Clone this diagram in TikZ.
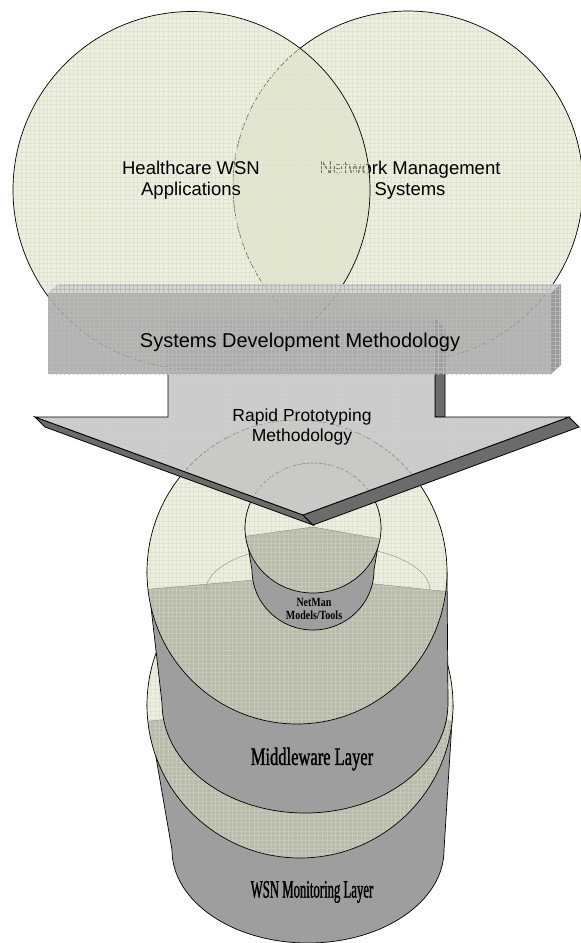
\documentclass[tikz,border=0pt]{standalone}
\usepackage{fontspec}
\setmainfont{Liberation Sans}
\newfontfamily\layerfont{Liberation Serif}[FakeStretch=0.66, FakeBold=1.2]
\newfontfamily\monitorfont{Liberation Serif}[FakeStretch=0.51, FakeBold=1.2]
\newfontfamily\toolfont{Liberation Serif}[FakeStretch=0.8]
\usetikzlibrary{patterns.meta}
\definecolor{venn}{HTML}{EDF0E0}
\definecolor{vennleft}{HTML}{DCE0C2}
\definecolor{venngrid}{HTML}{DFE3CF}
\definecolor{shadeface}{HTML}{B8BBA9}
\definecolor{shadegrid}{HTML}{C7CABA}
\definecolor{wallgray}{HTML}{9E9E9E}
\definecolor{boxfront}{HTML}{A9A9A9}
\definecolor{boxtop}{HTML}{D4D4D4}
\definecolor{boxside}{HTML}{8C8C8C}
\definecolor{boxgrid}{HTML}{B8B8B8}
\definecolor{arrowfill}{HTML}{BDBDBD}
\definecolor{arrowgrid}{HTML}{CACACA}
\definecolor{arrowside}{HTML}{6B6B6B}
\tikzset{
    gridfill/.style n args={3}{
        preaction={fill=#1, fill opacity=#3}, fill opacity=#3,
        pattern={Hatch[angle=0, distance=4.3pt, line width=0.3pt]}, pattern color=#2
    },
    vennset/.style={
        gridfill={#1}{venngrid}{1}, draw=black, line width=0.7pt
    },
    vennset/.default=venn,
    vennlab/.style={
        font=\fontsize{18.5}{20.5}\selectfont, align=center, inner sep=0pt
    },
    wall/.style={
        fill=wallgray, draw=black, line width=0.7pt
    },
    topdisc/.style={
        gridfill={venn}{venngrid}{1}
    },
    shadepart/.style={
        gridfill={shadeface}{shadegrid}{1}
    },
    rimline/.style={
        draw=black, line width=0.7pt
    },
    creaseline/.style={
        draw=black!45, line width=0.4pt
    },
    arrowbody/.style={
        gridfill={arrowfill}{arrowgrid}{0.75}, draw=black, line width=0.8pt
    },
    arrowedge/.style={
        fill=arrowside, draw=black, line width=0.8pt
    },
    boxface/.style={
        gridfill={#1}{boxgrid}{0.88}
    },
    boxface/.default=boxfront,
    layerlab/.style={
        inner sep=0pt, text=black
    },
}

\begin{document}
\begin{tikzpicture}[x=1pt, y=-1pt]

    \fill[white] (0,0) rectangle (581,943);
    \useasboundingbox (0,0) rectangle (581,943);

    % ── Venn circles ──
    \path[vennset] (408,186) circle[radius=175];
    \node[vennlab] (netmgmt) at (410,180) {Network Management\\Systems};
    \path[gridfill={vennleft}{venngrid}{0.5}, draw=black, line width=0.7pt] (191.5,190) circle[radius=178.5];
    \node[vennlab] (health) at (191,180) {Healthcare WSN\\Applications};

    % ── WSN Monitoring cylinder ──
    \path[wall] (147,705) -- (172,850) arc[start angle=180, end angle=0, x radius=136, y radius=93] -- (453,705) -- cycle;
    \path[topdisc] (300,705) ellipse[x radius=153, y radius=153];
    \begin{scope}
        \clip (300,705) ellipse[x radius=153, y radius=153];
        \path[shadepart] (140,722) -- (300,706) -- (460,722) -- (460,870) -- (140,870) -- cycle;
        \draw[creaseline] (140,722) -- (300,706) -- (460,722);
    \end{scope}
    \draw[rimline] (300,705) ellipse[x radius=153, y radius=153];

    % ── Middleware cylinder ──
    \path[wall] (147,572) -- (162,703) arc[start angle=180, end angle=0, x radius=143, y radius=110] -- (447,572) -- cycle;
    \path[topdisc] (297,572) ellipse[x radius=150, y radius=152];
    \begin{scope}
        \clip (297,572) ellipse[x radius=150, y radius=152];
        \path[shadepart] (140,590) -- (300,576) -- (460,593) -- (460,740) -- (140,740) -- cycle;
        \draw[creaseline] (140,590) -- (300,576) -- (460,593);
    \end{scope}
    \draw[creaseline] (206,590) arc[start angle=180, end angle=360, x radius=112, y radius=46];
    \draw[rimline] (297,572) ellipse[x radius=150, y radius=152];

    % ── NetMan cylinder ──
    \path[wall] (245,528) -- (252,570) arc[start angle=180, end angle=0, x radius=61, y radius=60] -- (381,528) -- cycle;
    \path[topdisc] (313,528) ellipse[x radius=68, y radius=65];
    \begin{scope}
        \clip (313,528) ellipse[x radius=68, y radius=65];
        \path[shadepart] (240,537) -- (313,527) -- (386,540) -- (386,600) -- (240,600) -- cycle;
        \draw[creaseline] (240,537) -- (313,527) -- (386,540);
    \end{scope}
    \draw[rimline] (313,528) ellipse[x radius=68, y radius=65];

    % ── Layer labels ──
    \node[layerlab, font=\fontsize{12.5}{13}\selectfont\toolfont\bfseries, align=center] (netman) at (314,609) {NetMan\\Models/Tools};
    \node[layerlab, font=\fontsize{25}{26}\selectfont\layerfont] (middle) at (312,759) {Middleware Layer};
    \node[layerlab, font=\fontsize{25}{26}\selectfont\monitorfont] (monitor) at (312,892) {WSN Monitoring Layer};

    % ── Rapid prototyping arrow ──
    \path[arrowedge] (435,319) -- (445,329) -- (445,417) -- (435,417) -- cycle;
    \path[arrowedge] (35,417) -- (45,427) -- (313,525) -- (303,515) -- cycle;
    \path[arrowedge] (569,417) -- (579,427) -- (313,525) -- (303,515) -- cycle;
    \path[arrowbody] (168,319) -- (435,319) -- (435,417) -- (569,417) -- (303,515) -- (35,417) -- (168,417) -- cycle;
    \node[font=\fontsize{17.5}{20}\selectfont, align=center, inner sep=0pt] (rapid) at (302,427) {Rapid Prototyping\\Methodology};

    % ── Systems development box ──
    \path[boxface=boxtop] (48,293) -- (58,284) -- (561,284) -- (551,293) -- cycle;
    \path[boxface=boxside] (551,293) -- (561,284) -- (561,365) -- (551,374) -- cycle;
    \path[boxface] (48,293) rectangle (551,374);
    \node[font=\fontsize{20}{22}\selectfont, inner sep=0pt] (sysdev) at (300,342) {Systems Development Methodology};

\end{tikzpicture}
\end{document}
